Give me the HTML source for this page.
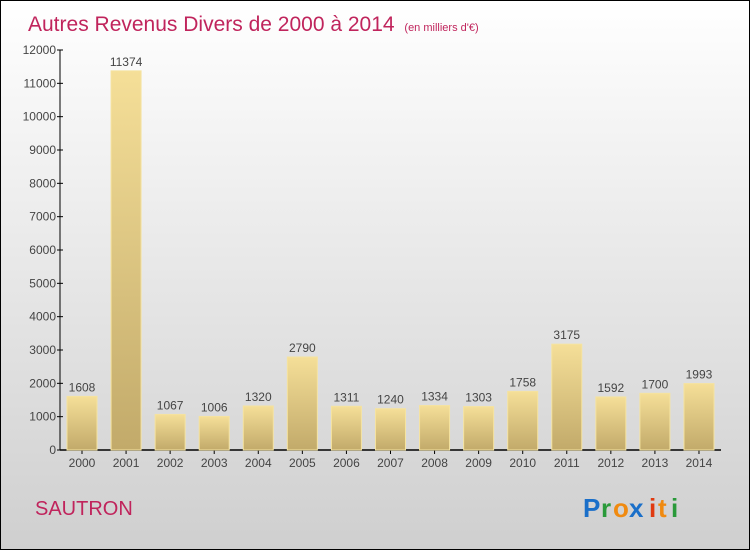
<!DOCTYPE html>
<html><head><meta charset="utf-8"><style>
body{margin:0}
#wrap{position:relative;width:748px;height:548px;border:1px solid #000;background:linear-gradient(#ffffff,#cfcfcf);overflow:hidden;font-family:"Liberation Sans",sans-serif}
svg text{font-family:"Liberation Sans",sans-serif}
</style></head><body>
<div id="wrap">
<svg width="748" height="548">
<defs>
<linearGradient id="bg" x1="0" y1="0" x2="0" y2="1"><stop offset="0" stop-color="#f5df98"/><stop offset="1" stop-color="#c2aa6a"/></linearGradient>
</defs>
<text x="27" y="30" font-size="21" fill="#c0245c">Autres Revenus Divers de 2000 à 2014 <tspan font-size="11" dx="4">(en milliers d'€)</tspan></text>
<g id="axes"></g>
<g id="bars"></g>
<text x="34" y="514" font-size="20" fill="#c0245c">SAUTRON</text>
<g font-size="26" font-weight="bold">
<text x="582" y="516" fill="#1a6fc9">P</text><text x="600" y="516" fill="#2a9a3a">r</text><text x="612" y="516" fill="#f08a10">o</text><text x="628" y="516" fill="#1a6fc9">x</text><text x="648" y="516" fill="#e03a10">i</text><text x="657" y="516" fill="#f08a10">t</text><text x="670" y="516" fill="#2a9a3a">i</text>
</g>
</svg>
</div>
<script>
const years=["2000","2001","2002","2003","2004","2005","2006","2007","2008","2009","2010","2011","2012","2013","2014"];
const values=[1608,11374,1067,1006,1320,2790,1311,1240,1334,1303,1758,3175,1592,1700,1993];
const yTicks=[0,1000,2000,3000,4000,5000,6000,7000,8000,9000,10000,11000,12000];
const NS="http://www.w3.org/2000/svg";
const y0=449,yTop=49,yMax=12000;
function y(v){return y0-(v/yMax)*(y0-yTop);}
function x(i){return 81+i*44.07;}
function el(t,a,p){const e=document.createElementNS(NS,t);for(const k in a)e.setAttribute(k,a[k]);p.appendChild(e);return e;}
const ax=document.getElementById('axes'),bars=document.getElementById('bars');
let l=el('line',{x1:59,y1:y0,x2:59,y2:yTop,stroke:'#000'},ax);


l=el('line',{x1:59,y1:y0,x2:720,y2:y0,stroke:'#000','stroke-width':1.5},ax);


yTicks.forEach(v=>{
  el('line',{x1:56,y1:y(v),x2:62,y2:y(v),stroke:'#000'},ax);
  const t=el('text',{x:55,y:y(v)+4,'text-anchor':'end','font-size':12,fill:'#444'},ax);
  t.textContent=v;
  
  
});
values.forEach((v,i)=>{
  const r=el('rect',{x:x(i)-15,y:y(v),width:30,height:y0-y(v),fill:'url(#bg)',stroke:'#f5e3a0','stroke-width':1},bars);
  
  
  const t=el('text',{x:x(i),y:y(v)-5,'text-anchor':'middle','font-size':12,fill:'#444'},bars);
  t.textContent=v;
  
  
  el('line',{x1:x(i),y1:y0,x2:x(i),y2:y0+4,stroke:'#000'},ax);
  const xl=el('text',{x:x(i),y:466,'text-anchor':'middle','font-size':12,fill:'#444'},ax);
  xl.textContent=years[i];
  
  
});
</script>
</body></html>
